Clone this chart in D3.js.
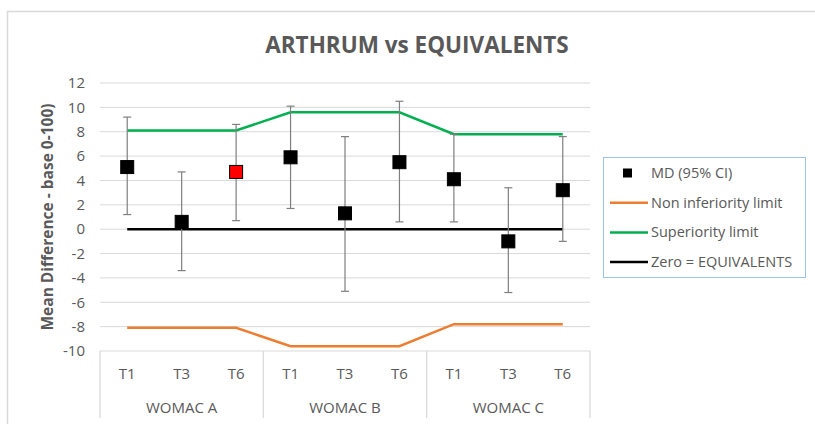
<!DOCTYPE html>
<html>
<head>
<meta charset="utf-8">
<script src="https://cdn.jsdelivr.net/npm/d3@7"></script>
<style>
  body { margin: 0; background: #fff; }
  svg text { font-family: "Open Sans", "Liberation Sans", sans-serif; fill: #595959; }
</style>
</head>
<body>
<svg id="chart" width="815" height="424"></svg>
<script>
// data
const groups = ["WOMAC A", "WOMAC B", "WOMAC C"];
const times = ["T1", "T3", "T6"];
const md = [5.1, 0.6, 4.7, 5.9, 1.3, 5.5, 4.1, -1.0, 3.2];
const ciLow = [1.2, -3.4, 0.7, 1.7, -5.1, 0.6, 0.6, -5.2, -1.0];
const ciHigh = [9.2, 4.7, 8.6, 10.1, 7.6, 10.5, 7.8, 3.4, 7.6];
const superiority = [8.1, 8.1, 8.1, 9.6, 9.6, 9.6, 7.8, 7.8, 7.8];
const nonInferiority = [-8.1, -8.1, -8.1, -9.6, -9.6, -9.6, -7.8, -7.8, -7.8];
const zero = [0, 0, 0, 0, 0, 0, 0, 0, 0];
const highlight = [false, false, true, false, false, false, false, false, false];
const yTicks = [12, 10, 8, 6, 4, 2, 0, -2, -4, -6, -8, -10];

const svg = d3.select("#chart");

// chart border
svg.append("rect")
  .attr("x", 7.5).attr("y", 11.5)
  .attr("width", 820).attr("height", 430)
  .attr("fill", "none").attr("stroke", "#d9d9d9").attr("stroke-width", 1.5);

const plotLeft = 100, plotRight = 590, plotTop = 83, plotBottom = 351;

const keys = [];
groups.forEach(g => times.forEach(t => keys.push(g + "|" + t)));

const x = d3.scaleBand().domain(keys).range([plotLeft, plotRight]);
const xGroup = d3.scaleBand().domain(groups).range([plotLeft, plotRight]);
const y = d3.scaleLinear().domain([-10, 12]).range([plotBottom, plotTop]);
const cx = i => x(keys[i]) + x.bandwidth() / 2;

// gridlines
svg.append("g").selectAll("line")
  .data(yTicks.filter(d => d !== -10))
  .join("line")
  .attr("x1", plotLeft).attr("x2", plotRight)
  .attr("y1", d => y(d)).attr("y2", d => y(d))
  .attr("stroke", "#d9d9d9").attr("stroke-width", 1);

// y axis labels (plain hyphen for negatives, like the original)
const yAxis = svg.append("g")
  .attr("transform", `translate(${plotLeft},0)`)
  .call(d3.axisLeft(y).tickValues(yTicks).tickFormat(d => String(d)).tickSize(0).tickPadding(15));
yAxis.select(".domain").remove();
yAxis.selectAll("text")
  .style("font-size", "15px")
  .attr("fill", "#595959");

// category axis with group boxes
svg.append("line")
  .attr("x1", plotLeft).attr("x2", plotRight)
  .attr("y1", plotBottom).attr("y2", plotBottom)
  .attr("stroke", "#d9d9d9").attr("stroke-width", 1.2);

const sepX = groups.map(g => xGroup(g)).concat([plotRight]);
svg.append("g").selectAll("line")
  .data(sepX)
  .join("line")
  .attr("x1", d => d).attr("x2", d => d)
  .attr("y1", plotBottom).attr("y2", 418)
  .attr("stroke", "#d9d9d9").attr("stroke-width", 1.2);

svg.append("g").selectAll("text")
  .data(keys)
  .join("text")
  .attr("x", d => x(d) + x.bandwidth() / 2)
  .attr("y", 379)
  .attr("text-anchor", "middle")
  .style("font-size", "15px")
  .text(d => d.split("|")[1]);

svg.append("g").selectAll("text")
  .data(groups)
  .join("text")
  .attr("x", d => xGroup(d) + xGroup.bandwidth() / 2)
  .attr("y", 413)
  .attr("text-anchor", "middle")
  .style("font-size", "15px")
  .text(d => d);

// limit lines
const line = d3.line().x((d, i) => cx(i)).y(d => y(d));

svg.append("path").datum(nonInferiority)
  .attr("d", line).attr("fill", "none")
  .attr("stroke", "#ed7d31").attr("stroke-width", 2.5);
svg.append("path").datum(superiority)
  .attr("d", line).attr("fill", "none")
  .attr("stroke", "#00b050").attr("stroke-width", 2.5);
svg.append("path").datum(zero)
  .attr("d", line).attr("fill", "none")
  .attr("stroke", "#000").attr("stroke-width", 2.5);

// error bars
const eb = svg.append("g").attr("stroke", "#7f7f7f").attr("stroke-width", 1.2);
md.forEach((v, i) => {
  eb.append("line")
    .attr("x1", cx(i)).attr("x2", cx(i))
    .attr("y1", y(ciLow[i])).attr("y2", y(ciHigh[i]));
  [ciLow[i], ciHigh[i]].forEach(c => {
    eb.append("line")
      .attr("x1", cx(i) - 4).attr("x2", cx(i) + 4)
      .attr("y1", y(c)).attr("y2", y(c));
  });
});

// markers
const s = 13;
svg.append("g").selectAll("rect")
  .data(md)
  .join("rect")
  .attr("x", (d, i) => cx(i) - s / 2)
  .attr("y", d => y(d) - s / 2)
  .attr("width", s).attr("height", s)
  .attr("fill", (d, i) => highlight[i] ? "#ff0000" : "#000")
  .attr("stroke", "#000").attr("stroke-width", 1);

// title
svg.append("text")
  .attr("x", 417).attr("y", 53)
  .attr("text-anchor", "middle")
  .style("font-size", "22.5px").style("font-weight", "bold")
  .text("ARTHRUM vs EQUIVALENTS");

// y axis title
svg.append("text")
  .attr("transform", `translate(53,${(plotTop + plotBottom) / 2}) rotate(-90)`)
  .attr("text-anchor", "middle")
  .style("font-size", "15.5px").style("font-weight", "bold")
  .text("Mean Difference - base 0-100)");

// legend
const lg = svg.append("g");
lg.append("rect")
  .attr("x", 603.5).attr("y", 157.5)
  .attr("width", 202).attr("height", 120)
  .attr("fill", "#fff").attr("stroke", "#9dc3e6").attr("stroke-width", 1);

const legendItems = [
  { label: "MD (95% CI)", type: "marker", color: "#000" },
  { label: "Non inferiority limit", type: "line", color: "#ed7d31" },
  { label: "Superiority limit", type: "line", color: "#00b050" },
  { label: "Zero = EQUIVALENTS", type: "line", color: "#000" }
];
legendItems.forEach((d, i) => {
  const ly = 173 + i * 29.7;
  if (d.type === "marker") {
    lg.append("rect")
      .attr("x", 623).attr("y", ly - 4.5)
      .attr("width", 9).attr("height", 9)
      .attr("fill", d.color);
  } else {
    lg.append("line")
      .attr("x1", 610).attr("x2", 648)
      .attr("y1", ly).attr("y2", ly)
      .attr("stroke", d.color).attr("stroke-width", 2.5);
  }
  lg.append("text")
    .attr("x", 651).attr("y", ly + 5)
    .style("font-size", "14.5px")
    .text(d.label);
});
</script>
</body>
</html>
